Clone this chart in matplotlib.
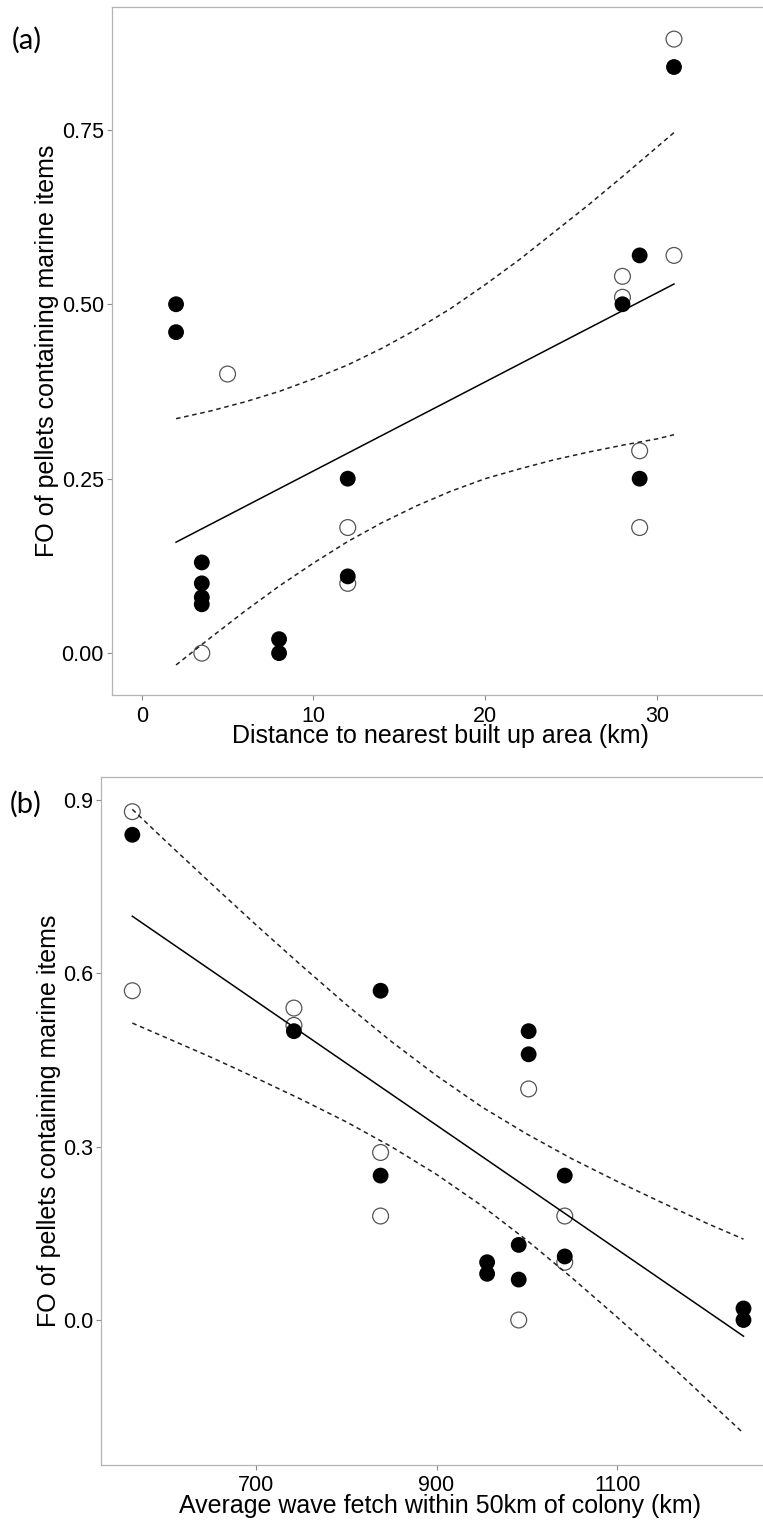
import matplotlib
matplotlib.use("Agg")
import matplotlib.pyplot as plt

plt.rcParams['font.family'] = ['Liberation Sans', 'DejaVu Sans']

# ---- panel (a): distance to nearest built up area ----
dist_filled = [2, 2, 3.5, 3.5, 3.5, 3.5, 8, 8, 12, 12, 28, 29, 29, 31]
fo_filled_a = [0.50, 0.46, 0.13, 0.10, 0.08, 0.07, 0.02, 0.00, 0.25, 0.11, 0.50, 0.57, 0.25, 0.84]
dist_open = [3.5, 5, 12, 12, 28, 28, 29, 29, 31, 31]
fo_open_a = [0.00, 0.40, 0.18, 0.10, 0.54, 0.51, 0.29, 0.18, 0.88, 0.57]

fit_a_x = [2, 31]
fit_a_y = [0.159, 0.529]
band_a_x = [2, 4, 6, 8, 10, 12, 14, 16, 18, 20, 22, 24, 26, 28, 30, 31]
upper_a_y = [0.336, 0.347, 0.360, 0.375, 0.393, 0.413, 0.437, 0.464, 0.494,
             0.528, 0.564, 0.603, 0.642, 0.683, 0.725, 0.746]
lower_a_y = [-0.017, 0.022, 0.060, 0.096, 0.129, 0.160, 0.187, 0.211, 0.232,
             0.250, 0.264, 0.277, 0.288, 0.298, 0.307, 0.313]

# ---- panel (b): average wave fetch ----
fetch_filled = [563, 742, 838, 838, 956, 956, 991, 991, 1002, 1002, 1042, 1042, 1240, 1240]
fo_filled_b = [0.84, 0.50, 0.57, 0.25, 0.10, 0.08, 0.13, 0.07, 0.50, 0.46, 0.25, 0.11, 0.02, 0.00]
fetch_open = [563, 563, 742, 742, 838, 838, 991, 1002, 1042, 1042]
fo_open_b = [0.88, 0.57, 0.54, 0.51, 0.29, 0.18, 0.00, 0.40, 0.18, 0.10]

fit_b_x = [563, 1240]
fit_b_y = [0.699, -0.028]
band_b_x = [563, 600, 650, 700, 750, 800, 850, 900, 950, 1000, 1050, 1100, 1150, 1200, 1240]
upper_b_y = [0.884, 0.829, 0.756, 0.684, 0.614, 0.546, 0.482, 0.423, 0.369,
             0.322, 0.279, 0.240, 0.203, 0.167, 0.140]
lower_b_y = [0.514, 0.489, 0.455, 0.419, 0.382, 0.343, 0.300, 0.252, 0.198,
             0.138, 0.073, 0.005, -0.065, -0.138, -0.196]

W, H = 763, 1521
fig = plt.figure(figsize=(W / 100, H / 100), dpi=100)
ax_a = fig.add_axes([112 / W, 1 - 695 / H, (771 - 112) / W, (695 - 7) / H])
ax_b = fig.add_axes([101 / W, 1 - 1465 / H, (776 - 101) / W, (1465 - 777) / H])

def style(ax, xpad):
    for s in ax.spines.values():
        s.set_color("#b3b3b3"); s.set_linewidth(0.9)
    ax.spines["right"].set_visible(False)  # panel is cropped at the right in the original
    ax.tick_params(length=3.8, width=0.8, color="#8c8c8c", labelsize=15.5, labelcolor="black")
    ax.tick_params(axis="x", pad=xpad)
    ax.tick_params(axis="y", pad=2.0)

def draw(ax, xf, yf, xo, yo, fx, fy, bx, uy, ly):
    ax.scatter(xo, yo, s=130, facecolors="none", edgecolors="#555555", linewidths=0.9, zorder=2)
    ax.scatter(xf, yf, s=130, c="black", edgecolors="none", zorder=3)
    ax.plot(fx, fy, color="black", lw=1.1, zorder=4)
    ax.plot(bx, uy, color="#222222", lw=1.1, ls=(0, (3, 2.4)), zorder=4)
    ax.plot(bx, ly, color="#222222", lw=1.1, ls=(0, (3, 2.4)), zorder=4)

draw(ax_a, dist_filled, fo_filled_a, dist_open, fo_open_a,
     fit_a_x, fit_a_y, band_a_x, upper_a_y, lower_a_y)
ax_a.set_xlim(-1.73, 36.65)
ax_a.set_ylim(-0.060, 0.926)
ax_a.set_xticks([0, 10, 20, 30])
ax_a.set_yticks([0, 0.25, 0.50, 0.75])
ax_a.set_yticklabels(["0.00", "0.25", "0.50", "0.75"])
style(ax_a, 4.2)

draw(ax_b, fetch_filled, fo_filled_b, fetch_open, fo_open_b,
     fit_b_x, fit_b_y, band_b_x, upper_b_y, lower_b_y)
ax_b.set_xlim(528.3, 1276)
ax_b.set_ylim(-0.251, 0.94)
ax_b.set_xticks([700, 900, 1100])
ax_b.set_yticks([0.0, 0.3, 0.6, 0.9])
ax_b.set_yticklabels(["0.0", "0.3", "0.6", "0.9"])
style(ax_b, 3.6)

ylab = "FO of pellets containing marine items"
for ax, xl, left, right, xmid, ybase, xbase in [
        (ax_a, "Distance to nearest built up area (km)", 112, 771, 440, 743.5, 54),
        (ax_b, "Average wave fetch within 50km of colony (km)", 101, 776, 440, 1513.5, 56.5)]:
    ax.set_xlabel(xl, fontsize=18, va="baseline")
    ax.set_ylabel(ylab, fontsize=18, va="baseline")
    bb = ax.get_position()
    top_px = (1 - bb.y1) * H
    bot_px = (1 - bb.y0) * H
    ax.xaxis.set_label_coords((xmid - left) / (right - left), -(ybase - bot_px) / (bot_px - top_px))
    ax.yaxis.set_label_coords(-(left - xbase) / (right - left), 0.5)

fig.text(12 / W, 1 - 40 / H, "(a)", fontsize=21, family=["Lato", "DejaVu Sans"], va="center", ha="left")
fig.text(10 / W, 1 - 804 / H, "(b)", fontsize=21, family=["Lato", "DejaVu Sans"], va="center", ha="left")

fig.savefig("out.png", dpi=100)
